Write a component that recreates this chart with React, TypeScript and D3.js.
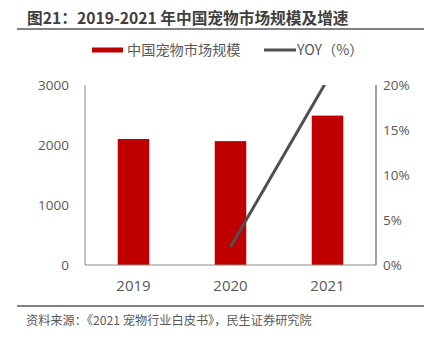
import React from "react";
import * as d3 from "d3";

const categories = ["2019", "2020", "2021"];
const marketSize = [2100, 2065, 2490];
const yoyYears = ["2020", "2021"];
const yoyValues = [2.0, 20.6];
const leftTicks = [0, 1000, 2000, 3000];
const rightTicks = [0, 5, 10, 15, 20];

const W = 433;
const H = 339;
const M = { left: 85, right: 376, top: 85, bottom: 265 };
const FONT = "'Open Sans', 'Noto Sans CJK SC', sans-serif";
const CJK = "'Noto Sans CJK SC', 'Open Sans', sans-serif";

export default function App() {
  const x = d3.scaleBand<string>().domain(categories).range([M.left, M.right]).padding(0);
  const barW = x.bandwidth() * 0.325;
  const yL = d3.scaleLinear().domain([0, 3000]).range([M.bottom, M.top]);
  const yR = d3.scaleLinear().domain([0, 20]).range([M.bottom, M.top]);
  const line = d3
    .line<number>()
    .x((_, i) => (x(yoyYears[i]) as number) + x.bandwidth() / 2)
    .y((d) => yR(d));

  return (
    <svg width={W} height={H} style={{ position: "absolute", left: 0, top: 0, background: "#fff" }}>
      <defs>
        <clipPath id="plot">
          <rect x={M.left} y={M.top} width={M.right - M.left} height={M.bottom - M.top} />
        </clipPath>
      </defs>
      {/* title */}
      <text x={27} y={24} fontFamily={CJK} fontWeight="bold" fontSize={15.7} fill="#404040">
        图21：2019-2021 年中国宠物市场规模及增速
      </text>
      <line x1={17} x2={424} y1={29} y2={29} stroke="#595959" strokeWidth={1.5} />

      {/* legend */}
      <rect x={92} y={47.5} width={31} height={5} fill="#C00000" />
      <text x={127} y={55} fontFamily={CJK} fontSize={14.2} fill="#595959">
        中国宠物市场规模
      </text>
      <line x1={264} x2={296} y1={50} y2={50} stroke="#505050" strokeWidth={3} />
      <text x={297} y={55} fontFamily={CJK} fontSize={14.2} fill="#595959">
        YOY（%）
      </text>

      {/* bars */}
      {categories.map((c, i) => (
        <rect
          key={c}
          x={(x(c) as number) + x.bandwidth() / 2 - barW / 2}
          y={yL(marketSize[i])}
          width={barW}
          height={M.bottom - yL(marketSize[i])}
          fill="#C00000"
        />
      ))}

      {/* axes */}
      <line x1={M.left} x2={M.left} y1={M.top} y2={M.bottom} stroke="#898989" strokeWidth={1} />
      <line x1={M.left} x2={M.right} y1={M.bottom} y2={M.bottom} stroke="#898989" strokeWidth={1} />
      <line x1={M.right} x2={M.right} y1={M.top} y2={M.bottom} stroke="#404040" strokeWidth={1} />

      {/* yoy line */}
      <path
        d={line(yoyValues) || ""}
        fill="none"
        stroke="#505050"
        strokeWidth={3}
        clipPath="url(#plot)"
      />

      {/* left ticks */}
      {leftTicks.map((t) => (
        <text key={t} x={69} y={yL(t) + 5} textAnchor="end" fontFamily={FONT} fontSize={13.5} fill="#595959">
          {t}
        </text>
      ))}
      {/* right ticks */}
      {rightTicks.map((t) => (
        <text key={t} x={383} y={yR(t) + 5} textAnchor="start" fontFamily={FONT} fontSize={13.5} fill="#595959">
          {t}%
        </text>
      ))}
      {/* x labels */}
      {categories.map((c) => (
        <text
          key={c}
          x={(x(c) as number) + x.bandwidth() / 2}
          y={291}
          textAnchor="middle"
          fontFamily={FONT}
          fontSize={15}
          fill="#595959"
        >
          {c}
        </text>
      ))}

      {/* footer */}
      <line x1={17} x2={424} y1={306} y2={306} stroke="#595959" strokeWidth={1.5} />
      <text x={26} y={325} fontFamily={CJK} fontSize={12.2} fill="#595959">
        资料来源：《2021 宠物行业白皮书》，民生证券研究院
      </text>
    </svg>
  );
}
